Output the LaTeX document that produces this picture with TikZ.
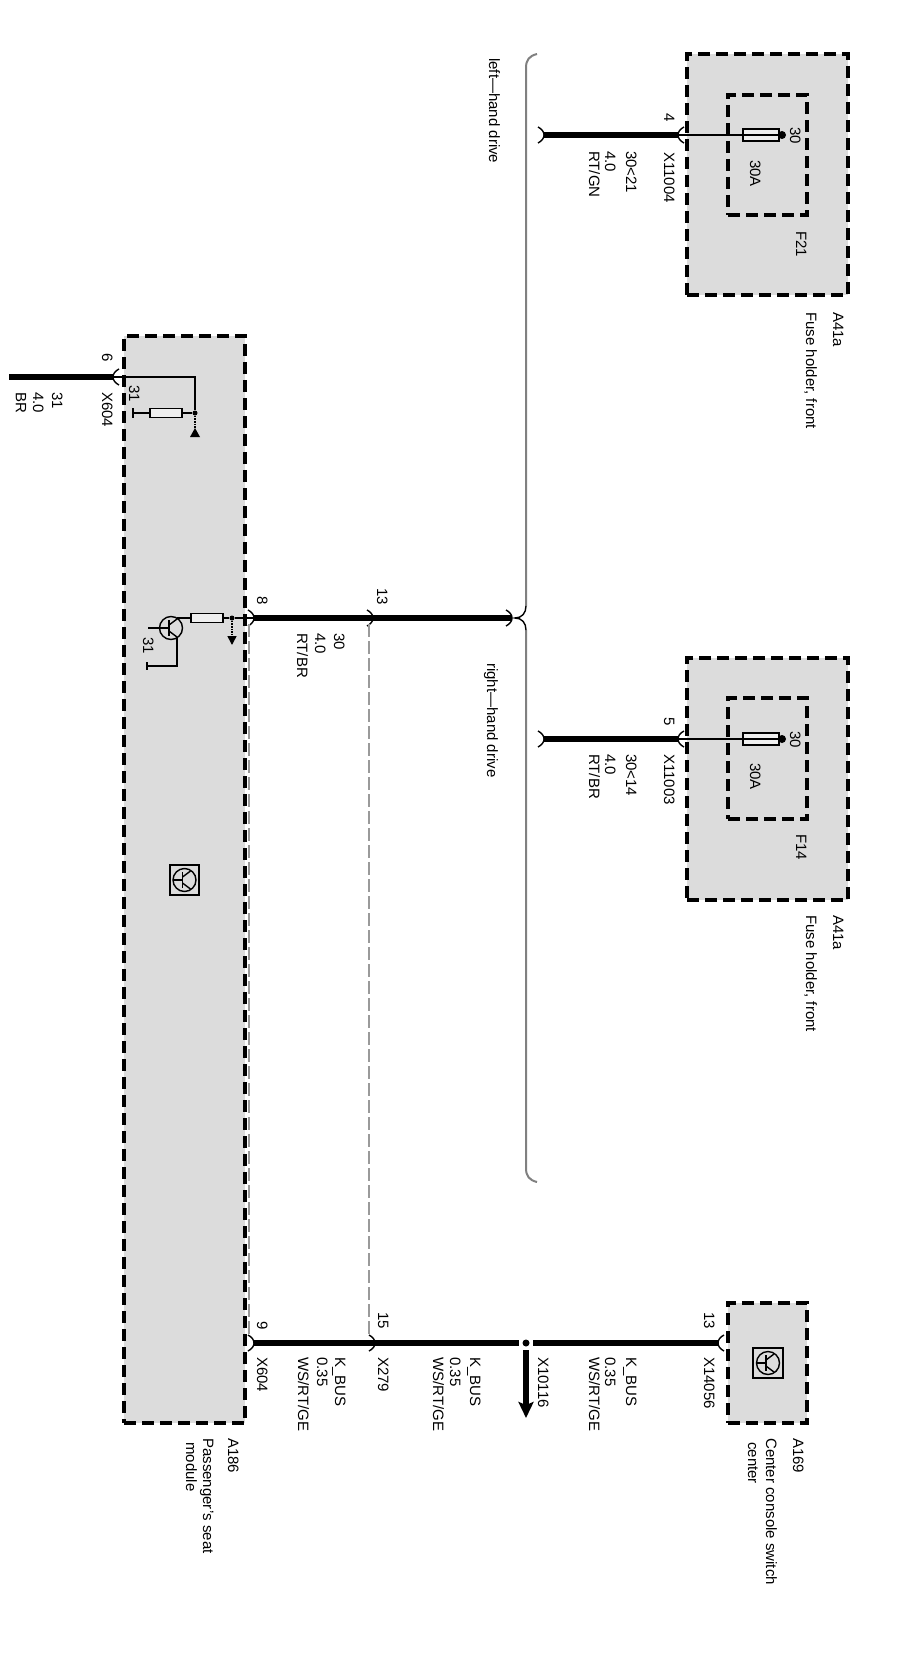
\documentclass[tikz,border=0pt]{standalone}
\usepackage{fontspec}
\setmainfont{Liberation Sans}
\usetikzlibrary{arrows.meta}

\definecolor{boxgray}{HTML}{DCDCDC}
\definecolor{partgray}{HTML}{EFEFEF}
\definecolor{linkgray}{HTML}{9A9A9A}

\tikzset{
  lbl/.style={rotate=-90, anchor=base west, inner sep=0pt, font=\fontsize{15}{17}\selectfont},
  modbox/.style={draw, fill=boxgray, line width=3.3pt, dash pattern=on 12pt off 6pt, inner sep=0pt},
  wire/.style={line width=5.5pt},
  thinwire/.style={line width=1.6pt},
  linkwire/.style={draw=linkgray, line width=1.6pt, dash pattern=on 13pt off 4pt},
  bracewire/.style={draw=gray, line width=2pt},
  pinline/.style={line width=1.4pt},
  part/.style={draw, fill=partgray, line width=1.4pt, inner sep=0pt},
  joint/.style={circle, fill=black, inner sep=0pt, minimum size=5pt},
  pinarc/.pic={\draw[pinline] (6,-8) .. controls (-2,-4) and (-2,4) .. (6,8);},
  transistor/.pic={
    \draw[pinline] (0,0) circle [radius=11.5];
    \draw[pinline] (-11.5,0) -- (-2,0);
    \draw[pinline] (-2,-8) -- (-2,8);
    \draw[pinline] (-2,-3) -- (6,-9);
    \draw[pinline] (-2,3) -- (6,9);
  }
}

\begin{document}
\begin{tikzpicture}[x=1pt, y=-1pt]
  \useasboundingbox (0,0) rectangle (916,1669);

  %Boxes
  \node (a41top) [modbox, minimum width=161pt, minimum height=241pt] at (767.5,174.5) {};
  \node (f21) [modbox, minimum width=79pt, minimum height=120pt] at (767.5,155) {};
  \node (a41low) [modbox, minimum width=161pt, minimum height=242pt] at (767.5,779) {};
  \node (f14) [modbox, minimum width=79pt, minimum height=121pt] at (767.5,758.5) {};
  \node (a186) [modbox, minimum width=121pt, minimum height=1087pt] at (184.5,879.5) {};
  \node (a169) [modbox, minimum width=79pt, minimum height=120pt] at (767.5,1363) {};

  %Brace
  \coordinate (bracetop) at (537,54);
  \coordinate (bracetip) at (515,618);
  \coordinate (bracelow) at (537,1182);
  \draw [bracewire] (bracetop) .. controls (529,56) and (526,60) .. (526,68) -- (526,606);
  \draw [bracewire] (526,630) -- (526,1168) .. controls (526,1176) and (529,1180) .. (bracelow);
  \draw [line width=1.4pt] (526,606) .. controls (526,613) and (522,618) .. (bracetip)
    .. controls (522,618) and (526,623) .. (526,630);

  %Top feed
  \coordinate (x11004) at (678,135);
  \coordinate (freetop) at (544,135);
  \node (fusetop) [part, minimum width=36pt, minimum height=12pt] at (761,135) {};
  \node (termtop) [joint, minimum size=8pt] at (782,135) {};
  \draw [wire] (freetop) -- (x11004);
  \draw [thinwire] (x11004) -- (termtop);
  \pic at (x11004) {pinarc};
  \pic [xscale=-1] at (freetop) {pinarc};
  \node (pin4) [lbl] at (664,113) {4};
  \node (x11004lbl) [lbl] at (664,152) {X11004};
  \node (feedtopa) [lbl] at (626,151) {30<21};
  \node (feedtopb) [lbl] at (605,151) {4.0};
  \node (feedtopc) [lbl] at (589,151) {RT/GN};
  \node (termtoplbl) [lbl] at (790,127) {30};
  \node (fusetoplbl) [lbl] at (750,160) {30A};
  \node (f21lbl) [lbl] at (796,231) {F21};
  \node (a41toplbl) [lbl] at (833,312) {A41a};
  \node (a41topname) [lbl] at (806,312) {Fuse holder, front};
  \node (leftdrive) [lbl] at (489,58) {left—hand drive};

  %Lower feed
  \coordinate (x11003) at (678,739);
  \coordinate (freelow) at (544,739);
  \node (fuselow) [part, minimum width=36pt, minimum height=12pt] at (761,739) {};
  \node (termlow) [joint, minimum size=8pt] at (782,739) {};
  \draw [wire] (freelow) -- (x11003);
  \draw [thinwire] (x11003) -- (termlow);
  \pic at (x11003) {pinarc};
  \pic [xscale=-1] at (freelow) {pinarc};
  \node (pin5) [lbl] at (664,717) {5};
  \node (x11003lbl) [lbl] at (664,754) {X11003};
  \node (feedlowa) [lbl] at (626,754) {30<14};
  \node (feedlowb) [lbl] at (605,754) {4.0};
  \node (feedlowc) [lbl] at (589,754) {RT/BR};
  \node (termlowlbl) [lbl] at (790,731) {30};
  \node (fuselowlbl) [lbl] at (750,763) {30A};
  \node (f14lbl) [lbl] at (796,834) {F14};
  \node (a41lowlbl) [lbl] at (833,915) {A41a};
  \node (a41lowname) [lbl] at (806,915) {Fuse holder, front};
  \node (rightdrive) [lbl] at (487,663) {right—hand drive};

  %Ground pin
  \coordinate (x604top) at (113,377);
  \coordinate (freegnd) at (9,377);
  \coordinate (gndcorner) at (195,377);
  \coordinate (gndstub) at (133,413);
  \coordinate (gndapex) at (195,428);
  \node (gndjoint) [joint] at (195,413) {};
  \node (gndres) [part, minimum width=32pt, minimum height=9pt] at (166,413) {};
  \draw [wire] (freegnd) -- (x604top);
  \draw [thinwire] (x604top) -- (gndcorner) -- (gndjoint);
  \draw [thinwire] (gndjoint) -- (gndres);
  \draw [thinwire] (gndres) -- (gndstub);
  \draw [thinwire] (133,408) -- (133,418);
  \draw [thinwire, densely dotted] (gndjoint) -- (gndapex);
  \fill (gndapex) -- (200,437) -- (190,437) -- cycle;
  \pic at (x604top) {pinarc};
  \node (pin6) [lbl] at (102,353) {6};
  \node (x604toplbl) [lbl] at (102,392) {X604};
  \node (gnda) [lbl] at (52,392) {31};
  \node (gndb) [lbl] at (33,392) {4.0};
  \node (gndc) [lbl] at (16,392) {BR};
  \node (gndstublbl) [lbl] at (129,385) {31};

  %Output stage
  \coordinate (x604mid) at (254,618);
  \coordinate (x279mid) at (373,618);
  \coordinate (freemid) at (512,618);
  \coordinate (collector) at (177,618);
  \coordinate (emitter) at (177,637);
  \coordinate (emitcorner) at (177,666);
  \coordinate (emitstub) at (147,666);
  \coordinate (basestub) at (148,628);
  \coordinate (basepin) at (159.5,628);
  \node (outjoint) [joint] at (232,618) {};
  \node (outres) [part, minimum width=32pt, minimum height=9pt] at (207,618) {};
  \draw [wire] (x604mid) -- (freemid);
  \draw [thinwire] (x604mid) -- (outjoint) -- (outres);
  \draw [thinwire] (outres) -- (collector);
  \draw [thinwire] (emitter) -- (emitcorner) -- (emitstub);
  \draw [thinwire] (basestub) -- (basepin);
  \draw [thinwire] (147,662) -- (147,670);
  \pic at (171,628) {transistor};
  \draw [thinwire, densely dotted, -{Triangle[width=9pt,length=9pt]}] (outjoint) -- (232,645);
  \pic [xscale=-1] at (x604mid) {pinarc};
  \pic [xscale=-1] at (x279mid) {pinarc};
  \pic [xscale=-1] at (freemid) {pinarc};
  \node (pin8) [lbl] at (257,596) {8};
  \node (pin13) [lbl] at (377,588) {13};
  \node (mida) [lbl] at (334,633) {30};
  \node (midb) [lbl] at (315,633) {4.0};
  \node (midc) [lbl] at (297,633) {RT/BR};
  \node (emitlbl) [lbl] at (143,637) {31};

  %Module symbols
  \node (a186sym) [part, fill=boxgray, minimum width=29pt, minimum height=30pt] at (184.5,880) {};
  \pic at (184.5,880) {transistor};
  \node (a169sym) [part, fill=boxgray, minimum width=30pt, minimum height=30pt] at (768,1363) {};
  \pic at (768,1363) {transistor};

  %K_BUS
  \coordinate (x604low) at (254,1343);
  \coordinate (x279low) at (375,1343);
  \coordinate (x14056) at (718,1343);
  \coordinate (splicetip) at (526,1418);
  \node (x10116) [circle, fill=black, inner sep=0pt, minimum size=7pt, outer sep=3.5pt] at (526,1343) {};
  \draw [wire] (x604low) -- (x10116);
  \draw [wire] (x10116) -- (x14056);
  \draw [wire, -{Stealth[width=15pt,length=16pt,inset=3pt]}] (x10116) -- (splicetip);
  \pic [xscale=-1] at (x604low) {pinarc};
  \pic [xscale=-1] at (x279low) {pinarc};
  \pic at (x14056) {pinarc};
  \node (pin9) [lbl] at (257,1321) {9};
  \node (x604lowlbl) [lbl] at (257,1357) {X604};
  \node (busa) [lbl] at (335,1357) {K\_BUS};
  \node (busb) [lbl] at (317,1357) {0.35};
  \node (busc) [lbl] at (298,1357) {WS/RT/GE};
  \node (pin15) [lbl] at (378,1312) {15};
  \node (x279lbl) [lbl] at (378,1357) {X279};
  \node (busd) [lbl] at (470,1357) {K\_BUS};
  \node (buse) [lbl] at (450,1357) {0.35};
  \node (busf) [lbl] at (433,1357) {WS/RT/GE};
  \node (x10116lbl) [lbl] at (538,1357) {X10116};
  \node (busg) [lbl] at (626,1357) {K\_BUS};
  \node (bush) [lbl] at (605,1357) {0.35};
  \node (busi) [lbl] at (589,1357) {WS/RT/GE};
  \node (pin13low) [lbl] at (704,1312) {13};
  \node (x14056lbl) [lbl] at (704,1357) {X14056};

  %Grey links
  \coordinate (linkatop) at (249,624);
  \coordinate (linkalow) at (249,1337);
  \coordinate (linkbtop) at (369,624);
  \coordinate (linkblow) at (369,1337);
  \draw [linkwire] (linkatop) -- (linkalow);
  \draw [linkwire] (linkbtop) -- (linkblow);

  %Names
  \node (a186lbl) [lbl] at (228,1438) {A186};
  \node (a186name) [lbl] at (203,1438) {Passenger's seat};
  \node (a186more) [lbl] at (186,1442) {module};
  \node (a169lbl) [lbl] at (793,1438) {A169};
  \node (a169name) [lbl] at (766,1438) {Center console switch};
  \node (a169more) [lbl] at (748,1442) {center};
\end{tikzpicture}
\end{document}
